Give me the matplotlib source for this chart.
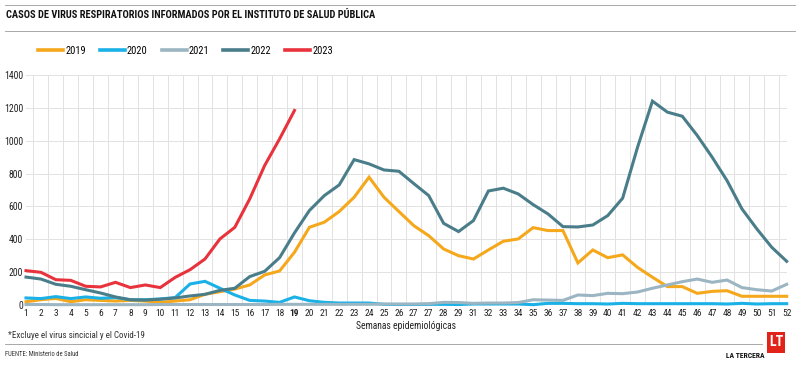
import matplotlib.pyplot as plt
from matplotlib import font_manager
from matplotlib.lines import Line2D
from matplotlib.patches import Rectangle

weeks = list(range(1, 53))
week_labels = [str(w) for w in range(1, 28)] + ['27', '28', '29'] + [str(w) for w in range(31, 53)]

y2019 = [20, 32, 40, 20, 32, 28, 24, 28, 24, 16, 24, 32, 65, 81, 97, 122, 183, 207, 321, 473,
         504, 569, 656, 778, 656, 569, 483, 422, 341, 300, 280, 335, 388, 402, 471, 453,
         453, 256, 335, 288, 305, 229, 169, 112, 112, 71, 83, 87, 53, 53, 53, 53]
y2020 = [43, 39, 51, 39, 49, 41, 45, 32, 32, 37, 45, 128, 144, 102, 61, 28, 24, 16, 49, 26,
         16, 12, 12, 12, 4, 3, 3, 4, 4, 3, 6, 6, 6, 6, 2, 10,
         10, 8, 8, 6, 10, 8, 8, 8, 8, 8, 8, 6, 10, 6, 8, 8]
y2021 = [3, 3, 2, 2, 2, 2, 2, 2, 2, 3, 3, 3, 3, 3, 3, 3, 3, 4, 4, 4,
         4, 4, 4, 4, 6, 6, 6, 8, 16, 15, 10, 12, 12, 15, 32, 30,
         28, 61, 57, 71, 69, 79, 102, 122, 142, 158, 138, 152, 106, 93, 85, 126]
y2022 = [170, 158, 126, 114, 93, 73, 49, 32, 30, 35, 43, 55, 65, 89, 102, 173, 205, 288, 439, 575,
         666, 731, 885, 859, 822, 814, 739, 666, 497, 447, 514, 694, 711, 676, 611, 554,
         477, 475, 487, 544, 650, 960, 1241, 1174, 1149, 1032, 900, 757, 585, 463, 351, 266]
y2023 = [209, 199, 154, 150, 114, 110, 138, 106, 122, 106, 168, 215, 280, 402, 473, 646, 849, 1011, 1184]

series = [
    ('2019', y2019, '#f5a81c'),
    ('2020', y2020, '#1ab1e6'),
    ('2021', y2021, '#9bb6c2'),
    ('2022', y2022, '#4a7d8a'),
    ('2023', y2023, '#e8323c'),
]

# a narrow face if one is around, otherwise Liberation Sans
installed = {f.name for f in font_manager.fontManager.ttflist}
fam = [f for f in ['Roboto Condensed', 'Liberation Sans Narrow', 'Open Sans Condensed',
                   'Liberation Sans', 'DejaVu Sans'] if f in installed]

W, H = 800, 366
fig = plt.figure(figsize=(8, 3.66), dpi=100)

def fx(x):
    return x / W

def fy(y):
    return 1 - y / H

ax = fig.add_axes([fx(26), fy(305), fx(786.7) - fx(26), fy(75) - fy(305)])

# light grid: horizontal every 200, vertical between weeks
for v in range(200, 1401, 200):
    ax.axhline(v, color='#e2e2e2', lw=0.7, zorder=0)
for g in [w + 0.5 for w in weeks[:-1]] + [52]:
    ax.axvline(g, color='#e2e2e2', lw=0.7, zorder=0)

for name, vals, col in series:
    ax.plot(weeks[:len(vals)], vals, color=col, lw=2.2, label=name,
            solid_joinstyle='miter', clip_on=False)

ax.set_xlim(1, 52)
ax.set_ylim(0, 1400)
ax.set_xticks(weeks)
ax.set_xticklabels(week_labels, family=fam, fontsize=6.8, color='#222222')
ax.get_xticklabels()[18].set_fontweight('bold')
ax.set_yticks(range(0, 1401, 200))
ax.set_yticklabels([str(v) for v in range(0, 1401, 200)], family=fam, fontsize=7, color='#222222')
ax.tick_params(length=0, pad=3)
ax.tick_params(axis='y', pad=2)
for s in ax.spines.values():
    s.set_visible(False)

ax.set_xlabel('Semanas epidemiológicas', family=fam, fontsize=6.9, color='#222222', labelpad=2)

ax.legend(loc='center left', bbox_to_anchor=(fx(38), fy(51)), bbox_transform=fig.transFigure,
          ncol=5, frameon=False, handlelength=2.4, handletextpad=0.2, columnspacing=1.35,
          borderpad=0, borderaxespad=0, prop={'family': fam, 'size': 7.5})
for line in ax.get_legend().get_lines():
    line.set_linewidth(2.6)

# header
fig.add_artist(Line2D([fx(5), fx(795)], [fy(5), fy(5)], color='#9a9a9a', lw=0.6))
fig.add_artist(Line2D([fx(5), fx(795)], [fy(31), fy(31)], color='#9a9a9a', lw=0.6))
fig.text(fx(6), fy(15), 'CASOS DE VIRUS RESPIRATORIOS INFORMADOS POR EL INSTITUTO DE SALUD PÚBLICA',
         family=fam, fontsize=7.5, fontweight='bold', color='#111111', va='center', ha='left')

# footer
fig.text(fx(8), fy(336), '*Excluye el virus sincicial y el Covid-19', family=fam, fontsize=6.5,
         color='#333333', va='center', ha='left')
fig.add_artist(Line2D([fx(5), fx(762)], [fy(344), fy(344)], color='#9a9a9a', lw=0.6))
fig.text(fx(5), fy(354), 'FUENTE: Ministerio de Salud', family=fam, fontsize=4.8,
         color='#333333', va='center', ha='left')
fig.text(fx(764), fy(355), 'LA TERCERA', family=fam, fontsize=5.5, fontweight='bold',
         color='#111111', va='center', ha='right')
fig.add_artist(Rectangle((fx(767), fy(353)), fx(785) - fx(767), fy(332) - fy(353),
                         transform=fig.transFigure, color='#e2231a', lw=0))
fig.text(fx(776), fy(342.5), 'LT', family=fam, fontsize=10, fontweight='bold',
         color='white', va='center', ha='center')

fig.savefig('out.png', dpi=100)
